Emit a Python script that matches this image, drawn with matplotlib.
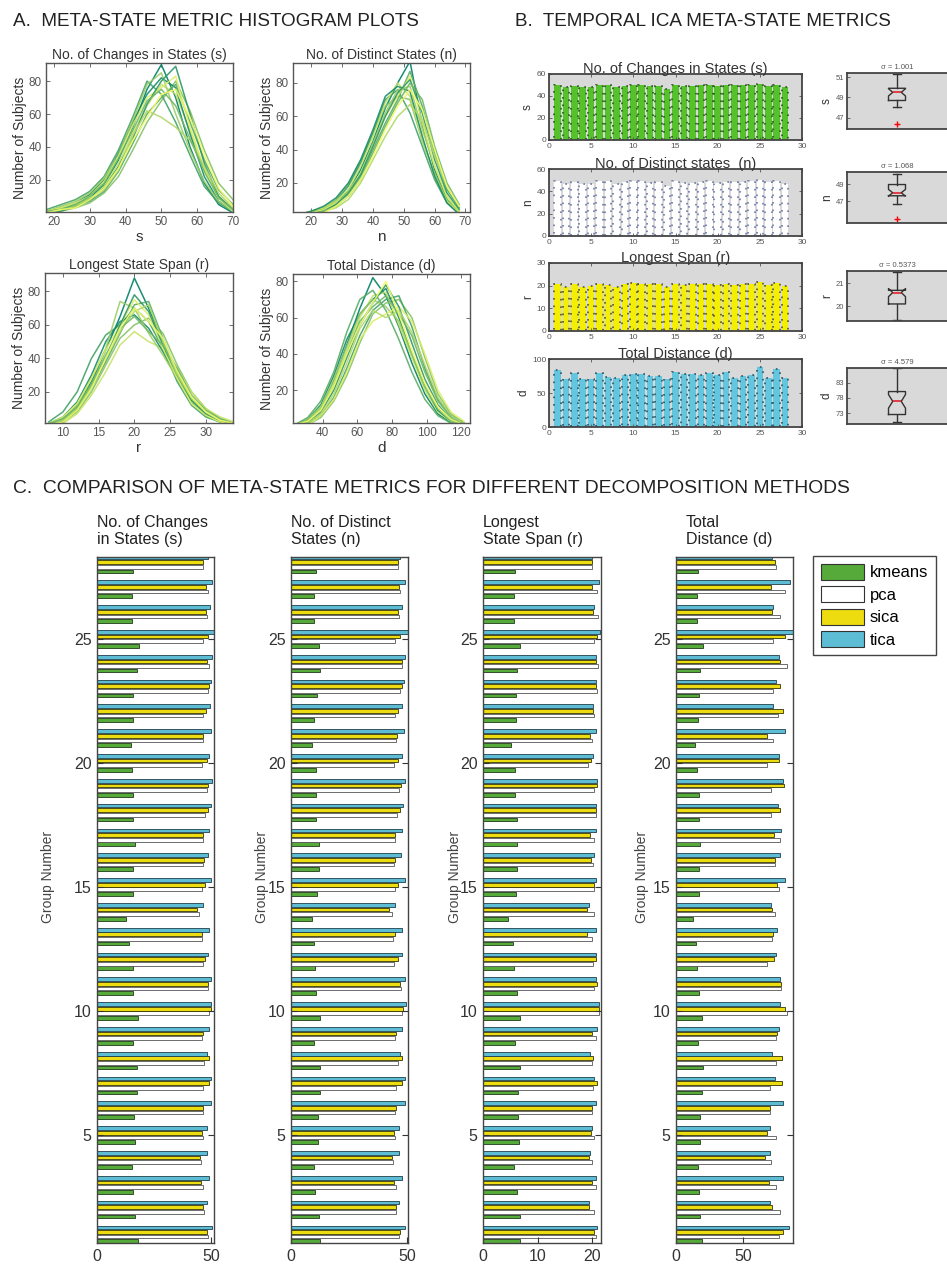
import numpy as np
import matplotlib
matplotlib.use("Agg")
import matplotlib.pyplot as plt
from matplotlib import font_manager
from matplotlib.patches import Patch

W, H = 947, 1267

_names = {f.name for f in font_manager.fontManager.ttflist}
NARROW = "Liberation Sans Narrow" if "Liberation Sans Narrow" in _names else "Liberation Sans"
plt.rcParams["font.family"] = ["Liberation Sans", "DejaVu Sans"]
TXT = "#333333"

# ── Panel A: histogram curves (counts per bin) ───────────────────────────────
hist_s_x = [18, 22, 26, 30, 34, 38, 42, 46, 50, 54, 58, 62, 66, 70]
hist_s = [
    [0, 2, 5, 9, 17, 32, 52, 75, 90, 70, 40, 18, 5, 0],
    [1, 3, 6, 11, 20, 36, 55, 72, 82, 76, 48, 22, 7, 1],
    [0, 1, 4, 8, 15, 28, 45, 66, 80, 89, 60, 30, 10, 2],
    [2, 5, 8, 13, 22, 38, 58, 80, 72, 55, 35, 16, 6, 1],
    [0, 2, 4, 7, 13, 25, 42, 60, 70, 78, 55, 32, 14, 5],
    [1, 2, 5, 10, 18, 33, 50, 68, 75, 65, 45, 25, 9, 2],
    [0, 1, 3, 6, 12, 22, 38, 55, 68, 80, 62, 38, 18, 8],
    [1, 4, 7, 12, 21, 35, 56, 78, 85, 60, 38, 19, 7, 1],
    [0, 2, 4, 9, 14, 26, 47, 62, 58, 52, 44, 28, 12, 3],
    [0, 1, 5, 8, 16, 30, 48, 65, 78, 72, 50, 26, 10, 2],
    [1, 3, 6, 10, 19, 34, 53, 70, 76, 83, 52, 27, 9, 1],
    [0, 2, 3, 8, 15, 27, 44, 58, 72, 75, 58, 35, 15, 4],
]
hist_n_x = [16, 20, 24, 28, 32, 36, 40, 44, 48, 52, 56, 60, 64, 68]
hist_n = [
    [0, 2, 4, 8, 15, 28, 45, 65, 80, 93, 55, 28, 10, 2],
    [1, 3, 6, 11, 20, 34, 52, 72, 78, 75, 48, 24, 8, 1],
    [0, 1, 3, 7, 14, 25, 42, 60, 74, 82, 62, 34, 14, 4],
    [1, 3, 5, 9, 18, 32, 50, 70, 76, 62, 42, 22, 8, 2],
    [0, 2, 4, 8, 13, 24, 40, 56, 70, 87, 66, 38, 16, 5],
    [0, 1, 3, 6, 12, 22, 38, 54, 68, 80, 70, 42, 20, 7],
    [1, 2, 5, 10, 19, 33, 50, 66, 72, 70, 45, 26, 10, 2],
    [0, 2, 4, 7, 15, 26, 44, 62, 76, 78, 52, 30, 12, 3],
    [0, 1, 3, 5, 10, 20, 34, 48, 60, 67, 58, 36, 18, 6],
    [1, 3, 5, 9, 16, 30, 48, 68, 80, 72, 46, 24, 9, 2],
    [0, 2, 4, 8, 14, 26, 42, 60, 72, 84, 56, 30, 12, 3],
    [0, 1, 2, 6, 12, 22, 36, 52, 66, 76, 64, 40, 18, 6],
]
hist_r_x = [8, 10, 12, 14, 16, 18, 20, 22, 24, 26, 28, 30, 32, 34]
hist_r = [
    [0, 3, 12, 26, 45, 65, 88, 70, 50, 30, 14, 6, 2, 0],
    [1, 5, 14, 30, 50, 62, 66, 58, 44, 28, 14, 6, 2, 0],
    [0, 2, 10, 24, 40, 60, 78, 68, 48, 30, 15, 7, 3, 1],
    [2, 8, 20, 40, 54, 60, 70, 62, 46, 26, 12, 5, 2, 0],
    [0, 3, 9, 22, 38, 55, 72, 74, 52, 32, 16, 8, 3, 1],
    [1, 4, 11, 25, 42, 58, 65, 56, 48, 34, 18, 9, 4, 1],
    [0, 2, 8, 20, 36, 52, 60, 64, 55, 36, 20, 10, 4, 1],
    [1, 4, 12, 28, 46, 74, 70, 55, 42, 28, 14, 6, 2, 0],
    [0, 3, 10, 24, 40, 56, 68, 72, 50, 30, 16, 8, 3, 1],
    [0, 1, 7, 18, 32, 48, 56, 50, 46, 34, 20, 10, 5, 2],
    [1, 5, 13, 28, 45, 60, 75, 66, 46, 28, 13, 6, 2, 0],
    [0, 2, 9, 22, 40, 58, 70, 62, 52, 32, 17, 8, 3, 1],
]
hist_d_x = [24, 31.5, 39, 46.5, 54, 61.5, 69, 76.5, 84, 91.5, 99, 106.5, 114, 121.5]
hist_d = [
    [0, 3, 10, 25, 45, 65, 82, 72, 55, 35, 18, 7, 2, 0],
    [1, 4, 12, 28, 48, 62, 70, 76, 60, 40, 22, 9, 3, 1],
    [0, 2, 8, 20, 38, 56, 68, 78, 66, 46, 26, 12, 4, 1],
    [0, 2, 6, 16, 32, 50, 64, 70, 72, 55, 32, 15, 6, 2],
    [1, 5, 14, 30, 52, 70, 75, 64, 48, 30, 15, 6, 2, 0],
    [0, 3, 9, 22, 40, 58, 66, 72, 62, 50, 30, 14, 5, 1],
    [0, 1, 5, 14, 28, 46, 62, 68, 70, 60, 38, 18, 7, 2],
    [1, 4, 11, 26, 44, 62, 70, 66, 58, 40, 22, 10, 3, 1],
    [0, 2, 7, 18, 35, 54, 64, 60, 64, 52, 34, 16, 6, 2],
    [0, 3, 10, 24, 42, 60, 72, 74, 56, 38, 20, 8, 3, 1],
    [0, 1, 6, 15, 30, 48, 58, 62, 66, 58, 40, 20, 8, 3],
    [1, 3, 9, 22, 40, 56, 68, 80, 62, 42, 24, 11, 4, 1],
]

# ── Panels B & C: per-group metric means (groups 1..28) ──────────────────────
groups = np.arange(1, 29)
s_kmeans = [17.8, 16.8, 16.0, 15.5, 16.8, 16.4, 17.5, 17.7, 15.7, 17.8, 16.0, 15.7, 14.2, 12.8,
            16.0, 16.0, 16.8, 16.0, 16.0, 15.2, 14.7, 16.0, 16.0, 17.5, 18.2, 15.2, 15.2, 15.9]
s_pca = [48.5, 46.9, 46.6, 45.7, 46.6, 46.6, 46.6, 46.9, 46.2, 49.3, 48.5, 46.3, 45.9, 44.9,
         46.2, 46.3, 46.3, 47.4, 48.2, 46.2, 46.6, 46.3, 48.5, 49.0, 46.3, 48.2, 48.6, 46.3]
s_sica = [48.1, 46.6, 45.7, 45.3, 46.2, 46.6, 48.9, 49.2, 46.6, 49.9, 48.5, 47.2, 45.9, 44.0,
          47.5, 46.9, 46.3, 48.5, 48.5, 48.2, 46.6, 47.7, 48.9, 48.3, 48.6, 47.7, 48.0, 46.3]
s_tica = [50.3, 48.1, 49.2, 48.1, 48.1, 49.9, 49.9, 48.4, 49.2, 49.9, 49.9, 48.7, 49.2, 46.4,
          49.9, 48.7, 49.2, 49.9, 50.3, 49.2, 49.9, 49.6, 49.9, 50.3, 51.3, 49.4, 50.3, 48.5]

n_kmeans = [12.7, 12.0, 10.4, 9.8, 11.7, 11.5, 12.7, 12.7, 9.8, 12.4, 10.9, 10.4, 10.1, 8.9,
            11.2, 11.9, 11.9, 10.9, 10.9, 10.6, 9.2, 10.1, 11.2, 12.4, 11.9, 10.1, 10.1, 10.8]
n_pca = [46.5, 45.2, 45.2, 44.1, 44.8, 44.8, 45.2, 45.9, 44.8, 48.0, 47.5, 44.4, 44.1, 43.4,
         44.8, 44.5, 44.8, 45.6, 46.7, 44.4, 45.1, 44.8, 47.0, 47.7, 44.8, 46.5, 47.0, 45.9]
n_sica = [47.0, 45.2, 44.5, 43.4, 44.4, 45.2, 48.0, 47.7, 45.2, 48.4, 47.0, 45.9, 44.8, 42.2,
          45.9, 44.8, 44.8, 47.0, 47.5, 46.2, 45.6, 46.0, 48.0, 47.7, 47.0, 46.0, 46.5, 46.3]
n_tica = [49.1, 46.7, 48.0, 46.7, 46.7, 48.9, 48.9, 47.0, 48.0, 49.5, 48.9, 47.7, 48.0, 45.0,
          49.1, 47.5, 47.7, 48.4, 49.1, 47.7, 48.7, 48.0, 48.7, 49.1, 50.2, 48.0, 49.1, 47.0]

r_kmeans = [6.8, 6.7, 6.2, 5.6, 6.5, 6.4, 6.4, 6.8, 5.9, 6.8, 6.2, 5.7, 5.4, 4.6,
            6.1, 6.3, 6.3, 6.3, 5.9, 5.9, 5.1, 6.1, 6.1, 6.3, 6.7, 5.6, 5.6, 5.9]
r_pca = [20.7, 20.4, 20.7, 20.0, 20.4, 19.9, 20.1, 19.9, 20.7, 21.3, 20.4, 20.1, 19.9, 20.3,
         20.4, 20.1, 20.4, 20.6, 20.4, 19.3, 19.9, 20.4, 20.9, 21.0, 20.3, 21.0, 20.9, 19.9]
r_sica = [20.4, 19.4, 19.9, 19.4, 19.8, 19.9, 20.9, 20.1, 19.9, 21.2, 20.9, 20.7, 19.0, 19.1,
          20.4, 19.8, 19.5, 20.6, 20.9, 19.8, 19.5, 20.1, 20.7, 20.7, 20.9, 20.1, 19.9, 19.9]
r_tica = [20.9, 19.4, 20.7, 19.6, 20.0, 20.6, 20.4, 19.5, 20.9, 21.3, 20.7, 20.6, 20.7, 19.4,
          20.7, 20.4, 20.6, 20.6, 20.9, 20.1, 20.6, 20.1, 20.7, 20.7, 21.5, 20.3, 21.2, 19.9]

d_kmeans = [19.2, 17.9, 16.9, 16.2, 17.9, 17.9, 19.2, 19.9, 16.6, 19.2, 17.4, 15.9, 14.9, 12.9,
            17.4, 17.4, 17.9, 17.4, 17.4, 15.9, 14.1, 16.6, 17.4, 17.9, 19.9, 15.9, 15.9, 16.6]
d_pca = [77.1, 77.6, 74.6, 70.9, 74.6, 70.1, 70.1, 74.6, 74.6, 82.6, 78.4, 67.7, 71.6, 73.9,
         77.1, 73.9, 77.6, 70.6, 70.6, 68.2, 72.6, 75.9, 72.1, 83.1, 72.6, 77.6, 81.0, 74.6]
d_sica = [80.1, 71.6, 69.6, 66.4, 67.7, 70.1, 79.3, 79.3, 75.1, 81.3, 78.1, 73.1, 72.1, 71.6,
          75.6, 73.9, 73.1, 77.6, 80.6, 76.9, 68.2, 80.1, 77.6, 77.6, 81.3, 71.4, 71.1, 73.9]
d_tica = [84.1, 70.1, 80.1, 70.1, 70.1, 80.1, 73.9, 71.6, 76.9, 77.6, 77.6, 74.6, 75.6, 70.6,
          81.0, 77.6, 78.4, 75.9, 80.1, 76.9, 81.3, 72.6, 74.6, 77.1, 87.9, 72.6, 85.4, 71.4]

sigma_labels = ["σ = 1.001", "σ = 1.068", "σ = 0.5373", "σ = 4.579"]
methods = ["kmeans", "pca", "sica", "tica"]


def px(left, top, right, bottom):
    return [left / W, 1 - bottom / H, (right - left) / W, (bottom - top) / H]


def style_box(ax, lw=1.0, color="#444444"):
    for sp in ax.spines.values():
        sp.set_linewidth(lw)
        sp.set_color(color)


fig = plt.figure(figsize=(W / 100, H / 100), dpi=100)
fig.patch.set_facecolor("white")

# ── Panel headings ───────────────────────────────────────────────────────────
fig.text(13 / W, 1 - 21 / H, "A.  META-STATE METRIC HISTOGRAM PLOTS",
         fontsize=13.6, va="center", color="#222222")
fig.text(515 / W, 1 - 22 / H, "B.  TEMPORAL ICA META-STATE METRICS",
         fontsize=13.6, va="center", color="#222222")
fig.text(13 / W, 1 - 488 / H,
         "C.  COMPARISON OF META-STATE METRICS FOR DIFFERENT DECOMPOSITION METHODS",
         fontsize=13.9, va="center", color="#222222")

# ── Panel A ──────────────────────────────────────────────────────────────────
a_specs = [
    ((46, 63, 233, 212), "No. of Changes in States (s)", "s", hist_s_x, hist_s,
     (17.8, 70), (0.5, 91), [20, 30, 40, 50, 60, 70]),
    ((293, 63, 470, 212), "No. of Distinct States (n)", "n", hist_n_x, hist_n,
     (14, 71.5), (2.5, 92), [20, 30, 40, 50, 60, 70]),
    ((45, 273, 233, 423), "Longest State Span (r)", "r", hist_r_x, hist_r,
     (7.5, 33.8), (1.4, 91), [10, 15, 20, 25, 30]),
    ((293, 274, 470, 423), "Total Distance (d)", "d", hist_d_x, hist_d,
     (23, 125), (2, 84), [40, 60, 80, 100, 120]),
]
for rect, title, xl, hx, hy, xlim, ylim, xt in a_specs:
    ax = fig.add_axes(px(*rect))
    cols = plt.cm.summer(np.linspace(0, 0.95, len(hy)))
    order = [0, 6, 3, 9, 1, 7, 4, 10, 2, 8, 5, 11]
    for i in order:
        ax.plot(hx, hy[i], color=cols[i], lw=1.1, alpha=0.9)
    ax.set_xlim(*xlim)
    ax.set_ylim(*ylim)
    ax.set_xticks(xt)
    ax.set_yticks([20, 40, 60, 80])
    ax.tick_params(direction="in", top=True, right=True, length=3, width=0.6,
                   labelsize=8.5, colors="#555555", pad=3)
    for lab in ax.get_xticklabels() + ax.get_yticklabels():
        lab.set_family(NARROW)
    ax.set_title(title, family=NARROW, fontsize=10, color=TXT, pad=3)
    ax.set_ylabel("Number of Subjects", family=NARROW, fontsize=10, color=TXT, labelpad=1)
    ax.set_xlabel(xl, family=NARROW, fontsize=11, color=TXT, labelpad=1)
    style_box(ax, 1.0, "#555555")

# ── Panel B: bars + notched boxplots ─────────────────────────────────────────
b_specs = [
    ((549, 74, 802, 140), (847, 73, 950, 129), "No. of Changes in States (s)", "s",
     s_tica, "#55c22b", "#2d5a22", (0, 60), [0, 20, 40, 60], (45.9, 51.4), [47, 49, 51]),
    ((549, 169, 802, 236), (847, 172, 950, 223), "No. of Distinct states  (n)", "n",
     n_tica, "#ffffff", "#6d7aa8", (0, 60), [0, 20, 40, 60], (44.5, 50.4), [47, 49]),
    ((549, 263, 802, 331), (847, 271, 950, 321), "Longest Span (r)", "r",
     r_tica, "#f4ee00", "#555533", (0, 30), [0, 10, 20, 30], (19.35, 21.55), [20, 21]),
    ((549, 359, 802, 427), (847, 368, 950, 424), "Total Distance (d)", "d",
     d_tica, "#62c6df", "#2f5566", (0, 100), [0, 50, 100], (69.5, 87.8), [73, 78, 83]),
]
for (rb, rx, title, yl, vals, face, dots, ylim, yt, bylim, byt), sig in zip(b_specs, sigma_labels):
    ax = fig.add_axes(px(*rb))
    ax.set_facecolor("#d9d9d9")
    ax.bar(groups, vals, width=0.78, color=face, edgecolor="none")
    ax.bar(groups, vals, width=0.78, fill=False, edgecolor=dots, linewidth=1.2,
           linestyle=(0, (1, 3.5)))
    ax.set_xlim(0, 30)
    ax.set_ylim(*ylim)
    ax.set_xticks(range(0, 31, 5))
    ax.set_yticks(yt)
    ax.tick_params(direction="in", top=True, right=True, length=2.5, width=0.6,
                   labelsize=6, colors="#555555", pad=2)
    ax.set_title(title, family=NARROW, fontsize=10.5, color=TXT, pad=0.5)
    ax.set_ylabel(yl, fontsize=8.5, color=TXT, labelpad=2)
    style_box(ax, 1.3, "#444444")

    bx = fig.add_axes(px(*rx))
    bx.set_facecolor("#d9d9d9")
    bx.boxplot(vals, notch=True, widths=0.17, positions=[1], sym="r+",
               boxprops=dict(color="#333333", lw=1.0),
               whiskerprops=dict(color="#333333", lw=1.0),
               capprops=dict(color="#333333", lw=1.0),
               medianprops=dict(color="#e8202a", lw=1.2),
               flierprops=dict(markeredgecolor="#e8202a", markersize=4))
    bx.set_xlim(0.5, 1.53)
    bx.set_ylim(*bylim)
    bx.set_xticks([])
    bx.set_yticks(byt)
    bx.tick_params(direction="in", right=True, length=2, width=0.6,
                   labelsize=5.5, colors="#555555", pad=2)
    bx.set_ylabel(yl, fontsize=8.5, color=TXT, labelpad=2)
    bx.set_title(sig, fontsize=5.5, color="#555555", pad=3, x=0.485)
    style_box(bx, 1.3, "#444444")

# ── Panel C: grouped horizontal bars ─────────────────────────────────────────
c_colors = ["#55aa3a", "#ffffff", "#ecdc10", "#5dbdd4"]
c_edges = ["#1f3a18", "#555555", "#333300", "#1f3f4a"]
offsets = [-0.28, -0.093, 0.093, 0.28]
c_specs = [
    ((97, 557, 214, 1243), "No. of Changes\nin States (s)", 97, 48,
     [s_kmeans, s_pca, s_sica, s_tica], 51.3, [0, 50]),
    ((291, 557, 408, 1243), "No. of Distinct\nStates (n)", 291, 262,
     [n_kmeans, n_pca, n_sica, n_tica], 50.4, [0, 50]),
    ((483, 557, 601, 1243), "Longest\nState Span (r)", 483, 455,
     [r_kmeans, r_pca, r_sica, r_tica], 21.6, [0, 10, 20]),
    ((676, 557, 793, 1243), "Total\nDistance (d)", 686, 642,
     [d_kmeans, d_pca, d_sica, d_tica], 87.3, [0, 50]),
]
for rect, title, tx, ylx, series, xmax, xt in c_specs:
    ax = fig.add_axes(px(*rect))
    for k, vals in enumerate(series):
        ax.barh(groups + offsets[k], vals, height=0.15, color=c_colors[k],
                edgecolor=c_edges[k], linewidth=0.6)
    ax.set_xlim(0, xmax)
    ax.set_ylim(0.65, 28.3)
    ax.set_xticks(xt)
    ax.set_yticks([5, 10, 15, 20, 25])
    ax.tick_params(direction="in", right=True, length=4, width=0.8,
                   labelsize=11.5, colors="#333333", pad=4)
    style_box(ax, 1.0, "#444444")
    fig.text(tx / W, 1 - 547 / H, title, fontsize=11.5, ha="left", va="bottom",
             color="#222222", linespacing=1.2)
    fig.text(ylx / W, 1 - 877 / H, "Group Number", fontsize=10, rotation=90,
             ha="center", va="center", color="#444444")

handles = [Patch(facecolor=c, edgecolor="#333333", linewidth=0.8) for c in c_colors]
fig.legend(handles, methods, loc="upper left", bbox_to_anchor=(813 / W, 1 - 556 / H),
           fontsize=12, handlelength=2.6, handleheight=1.1, labelspacing=0.35,
           borderpad=0.45, handletextpad=0.35, borderaxespad=0, frameon=True,
           fancybox=False, edgecolor="#444444", framealpha=1)

fig.savefig("out.png", dpi=100)
